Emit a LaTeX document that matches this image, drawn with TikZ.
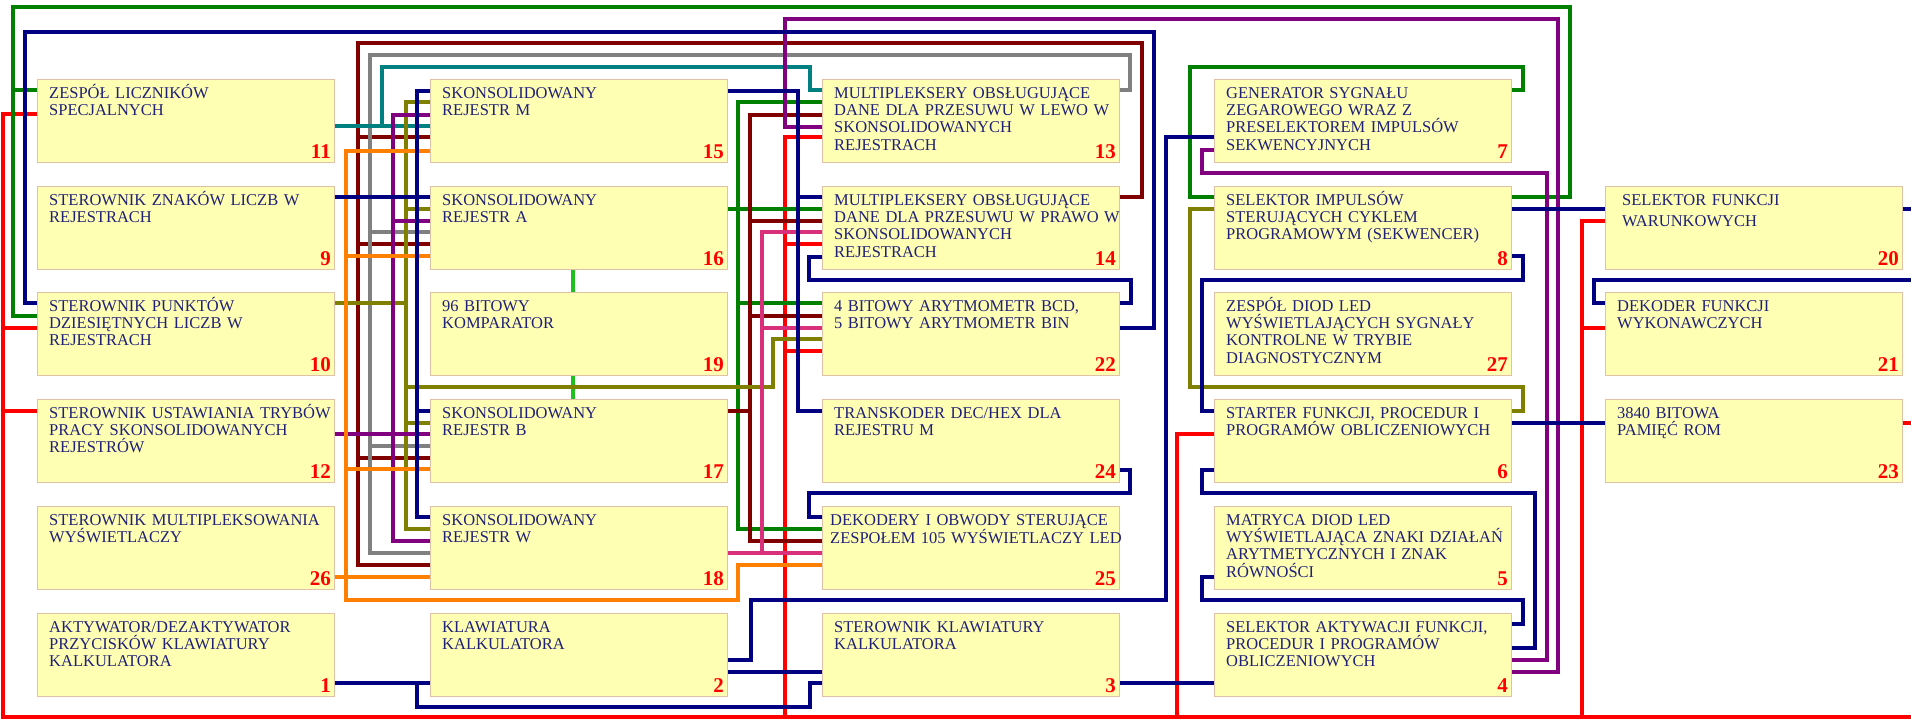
\documentclass[tikz,border=0pt]{standalone}
\usepackage{fontspec}
\setmainfont{Liberation Serif}
\usepackage{tikz}
\usetikzlibrary{positioning}
\definecolor{boxfill}{HTML}{FFFFB4}
\definecolor{boxedge}{HTML}{E2C2A6}
\definecolor{labeltext}{HTML}{202078}
\definecolor{wnavy}{HTML}{000080}
\definecolor{wgreen}{HTML}{008000}
\definecolor{wlime}{HTML}{20C020}
\definecolor{wmaroon}{HTML}{800000}
\definecolor{wgray}{HTML}{808080}
\definecolor{wteal}{HTML}{008080}
\definecolor{wolive}{HTML}{808000}
\definecolor{wpurple}{HTML}{800080}
\definecolor{worange}{HTML}{FF8000}
\definecolor{wpink}{HTML}{D8307A}
\definecolor{wred}{HTML}{FF0000}

\begin{document}
\begin{tikzpicture}[
    x=1pt, y=-1pt,
    blok/.style={
      draw=boxedge, line width=1pt, fill=boxfill, anchor=north west,
      minimum width=297pt, minimum height=83pt, inner sep=0pt
    },
    opis/.style={
      anchor=base west, xshift=12pt, yshift=-19pt, inner sep=0pt,
      text width=300pt, align=left, text=labeltext,
      font=\fontsize{16.5}{17.4}\selectfont
    },
    nr/.style={
      anchor=base east, xshift=-4pt, yshift=5pt, inner sep=0pt,
      text=wred, font=\fontsize{21}{21}\selectfont\bfseries
    },
    wire/.style={line width=3.2pt}
  ]
  \useasboundingbox[fill=white] (0,0) rectangle (1911,718);

  % column 1
  \node[blok] (b11) at (37,79) {};
  \node[opis] (t11) at (b11.north west) {ZESPÓŁ LICZNIKÓW\\SPECJALNYCH};
  \node[nr] (n11) at (b11.south east) {11};
  \node[blok] (b9) at (37,186) {};
  \node[opis] (t9) at (b9.north west) {STEROWNIK ZNAKÓW LICZB W\\REJESTRACH};
  \node[nr] (n9) at (b9.south east) {9};
  \node[blok] (b10) at (37,292) {};
  \node[opis] (t10) at (b10.north west) {STEROWNIK PUNKTÓW\\DZIESIĘTNYCH LICZB W\\REJESTRACH};
  \node[nr] (n10) at (b10.south east) {10};
  \node[blok] (b12) at (37,399) {};
  \node[opis] (t12) at (b12.north west) {STEROWNIK USTAWIANIA TRYBÓW\\PRACY SKONSOLIDOWANYCH\\REJESTRÓW};
  \node[nr] (n12) at (b12.south east) {12};
  \node[blok] (b26) at (37,506) {};
  \node[opis] (t26) at (b26.north west) {STEROWNIK MULTIPLEKSOWANIA\\WYŚWIETLACZY};
  \node[nr] (n26) at (b26.south east) {26};
  \node[blok] (b1) at (37,613) {};
  \node[opis] (t1) at (b1.north west) {AKTYWATOR/DEZAKTYWATOR\\PRZYCISKÓW KLAWIATURY\\KALKULATORA};
  \node[nr] (n1) at (b1.south east) {1};

  % column 2
  \node[blok] (b15) at (430,79) {};
  \node[opis] (t15) at (b15.north west) {SKONSOLIDOWANY\\REJESTR M};
  \node[nr] (n15) at (b15.south east) {15};
  \node[blok] (b16) at (430,186) {};
  \node[opis] (t16) at (b16.north west) {SKONSOLIDOWANY\\REJESTR A};
  \node[nr] (n16) at (b16.south east) {16};
  \node[blok] (b19) at (430,292) {};
  \node[opis] (t19) at (b19.north west) {96 BITOWY\\KOMPARATOR};
  \node[nr] (n19) at (b19.south east) {19};
  \node[blok] (b17) at (430,399) {};
  \node[opis] (t17) at (b17.north west) {SKONSOLIDOWANY\\REJESTR B};
  \node[nr] (n17) at (b17.south east) {17};
  \node[blok] (b18) at (430,506) {};
  \node[opis] (t18) at (b18.north west) {SKONSOLIDOWANY\\REJESTR W};
  \node[nr] (n18) at (b18.south east) {18};
  \node[blok] (b2) at (430,613) {};
  \node[opis] (t2) at (b2.north west) {KLAWIATURA\\KALKULATORA};
  \node[nr] (n2) at (b2.south east) {2};

  % column 3
  \node[blok] (b13) at (822,79) {};
  \node[opis] (t13) at (b13.north west) {MULTIPLEKSERY OBSŁUGUJĄCE\\DANE DLA PRZESUWU W LEWO W\\SKONSOLIDOWANYCH\\REJESTRACH};
  \node[nr] (n13) at (b13.south east) {13};
  \node[blok] (b14) at (822,186) {};
  \node[opis] (t14) at (b14.north west) {MULTIPLEKSERY OBSŁUGUJĄCE\\DANE DLA PRZESUWU W PRAWO W\\SKONSOLIDOWANYCH\\REJESTRACH};
  \node[nr] (n14) at (b14.south east) {14};
  \node[blok] (b22) at (822,292) {};
  \node[opis] (t22) at (b22.north west) {4 BITOWY ARYTMOMETR BCD,\\5 BITOWY ARYTMOMETR BIN};
  \node[nr] (n22) at (b22.south east) {22};
  \node[blok] (b24) at (822,399) {};
  \node[opis] (t24) at (b24.north west) {TRANSKODER DEC/HEX DLA\\REJESTRU M};
  \node[nr] (n24) at (b24.south east) {24};
  \node[blok] (b25) at (822,506) {};
  \node[opis, xshift=-4pt] (t25) at (b25.north west) {DEKODERY I OBWODY STERUJĄCE\\ZESPOŁEM 105 WYŚWIETLACZY LED};
  \node[nr] (n25) at (b25.south east) {25};
  \node[blok] (b3) at (822,613) {};
  \node[opis] (t3) at (b3.north west) {STEROWNIK KLAWIATURY\\KALKULATORA};
  \node[nr] (n3) at (b3.south east) {3};

  % column 4
  \node[blok] (b7) at (1214,79) {};
  \node[opis] (t7) at (b7.north west) {GENERATOR SYGNAŁU\\ZEGAROWEGO WRAZ Z\\PRESELEKTOREM IMPULSÓW\\SEKWENCYJNYCH};
  \node[nr] (n7) at (b7.south east) {7};
  \node[blok] (b8) at (1214,186) {};
  \node[opis] (t8) at (b8.north west) {SELEKTOR IMPULSÓW\\STERUJĄCYCH CYKLEM\\PROGRAMOWYM (SEKWENCER)};
  \node[nr] (n8) at (b8.south east) {8};
  \node[blok] (b27) at (1214,292) {};
  \node[opis] (t27) at (b27.north west) {ZESPÓŁ DIOD LED\\WYŚWIETLAJĄCYCH SYGNAŁY\\KONTROLNE W TRYBIE\\DIAGNOSTYCZNYM};
  \node[nr] (n27) at (b27.south east) {27};
  \node[blok] (b6) at (1214,399) {};
  \node[opis] (t6) at (b6.north west) {STARTER FUNKCJI, PROCEDUR I\\PROGRAMÓW OBLICZENIOWYCH};
  \node[nr] (n6) at (b6.south east) {6};
  \node[blok] (b5) at (1214,506) {};
  \node[opis] (t5) at (b5.north west) {MATRYCA DIOD LED\\WYŚWIETLAJĄCA ZNAKI DZIAŁAŃ\\ARYTMETYCZNYCH I ZNAK\\RÓWNOŚCI};
  \node[nr] (n5) at (b5.south east) {5};
  \node[blok] (b4) at (1214,613) {};
  \node[opis] (t4) at (b4.north west) {SELEKTOR AKTYWACJI FUNKCJI,\\PROCEDUR I PROGRAMÓW\\OBLICZENIOWYCH};
  \node[nr] (n4) at (b4.south east) {4};

  % column 5
  \node[blok] (b20) at (1605,186) {};
  \node[opis, xshift=5pt] (t20) at (b20.north west) {SELEKTOR FUNKCJI\\[3.6pt]WARUNKOWYCH};
  \node[nr] (n20) at (b20.south east) {20};
  \node[blok] (b21) at (1605,292) {};
  \node[opis] (t21) at (b21.north west) {DEKODER FUNKCJI\\WYKONAWCZYCH};
  \node[nr] (n21) at (b21.south east) {21};
  \node[blok] (b23) at (1605,399) {};
  \node[opis] (t23) at (b23.north west) {3840 BITOWA\\PAMIĘĆ ROM};
  \node[nr] (n23) at (b23.south east) {23};

  % red lines
  \draw[wire, wred] (b11.west |- 0,114) -- (3,114) -- (3,717) -- (1930,717) -- (1930,423) -- (b23.east |- 0,423)
    (3,328) -- (b10.west |- 0,328)
    (3,411) -- (b12.west |- 0,411);
  \draw[wire, wred] (b13.west |- 0,137) -- (785,137) -- (785,717)
    (785,244) -- (b14.west |- 0,244)
    (785,351) -- (b22.west |- 0,351);
  \draw[wire, wred] (b6.west |- 0,434) -- (1177,434) -- (1177,717);
  \draw[wire, wred] (b20.west |- 0,221) -- (1582,221) -- (1582,717)
    (1582,328) -- (b21.west |- 0,328);

  % green lines
  \draw[wire, wgreen] (b10.west |- 0,316) -- (13,316) -- (13,7) -- (1570,7) -- (1570,197) -- (b8.east |- 0,197)
    (13,90) -- (b11.west |- 0,90);
  \draw[wire, wgreen] (b7.east |- 0,90) -- (1523,90) -- (1523,67) -- (1190,67) -- (1190,197) -- (b8.west |- 0,197);
  \draw[wire, wgreen] (b13.west |- 0,102) -- (738,102) -- (738,529) -- (b25.west |- 0,529)
    (b16.east |- 0,209) -- (b14.west |- 0,209)
    (738,303) -- (b22.west |- 0,303);
  \draw[wire, wlime] ([xshift=-6pt]b16.south) -- ([xshift=-6pt]b19.north)
    ([xshift=-6pt]b19.south) -- ([xshift=-6pt]b17.north);

  % maroon lines
  \draw[wire, wmaroon] (b14.east |- 0,197) -- (1142,197) -- (1142,43) -- (358,43) -- (358,565) -- (b18.west |- 0,565)
    (358,137) -- (b15.west |- 0,137)
    (358,244) -- (b16.west |- 0,244)
    (358,458) -- (b17.west |- 0,458);
  \draw[wire, wmaroon] (b13.west |- 0,115) -- (750,115) -- (750,541) -- (b25.west |- 0,541)
    (750,221) -- (b14.west |- 0,221)
    (750,316) -- (b22.west |- 0,316)
    (b17.east |- 0,411) -- (750,411);

  % gray lines
  \draw[wire, wgray] (b13.east |- 0,90) -- (1130,90) -- (1130,55) -- (370,55) -- (370,553) -- (b18.west |- 0,553)
    (370,232) -- (b16.west |- 0,232)
    (370,446) -- (b17.west |- 0,446);

  % teal lines
  \draw[wire, wteal] (b11.east |- 0,126) -- (b15.west |- 0,126)
    (382,126) -- (382,67) -- (810,67) -- (810,90) -- (b13.west |- 0,90);

  % olive lines
  \draw[wire, wolive] (b15.west |- 0,102) -- (406,102) -- (406,529) -- (b18.west |- 0,529)
    (406,209) -- (b16.west |- 0,209)
    (b10.east |- 0,303) -- (406,303)
    (406,423) -- (b17.west |- 0,423)
    (406,387) -- (773,387) -- (773,339) -- (b22.west |- 0,339);
  \draw[wire, wolive] (b8.west |- 0,209) -- (1190,209) -- (1190,387) -- (1523,387) -- (1523,411) -- (b6.east |- 0,411);

  % purple lines
  \draw[wire, wpurple] (b15.west |- 0,115) -- (393,115) -- (393,541) -- (b18.west |- 0,541)
    (393,221) -- (b16.west |- 0,221)
    (b12.east |- 0,434) -- (b17.west |- 0,434);
  \draw[wire, wpurple] (b13.west |- 0,127) -- (785,127) -- (785,19) -- (1558,19) -- (1558,672) -- (b4.east |- 0,672);
  \draw[wire, wpurple] (b7.west |- 0,150) -- (1202,150) -- (1202,173) -- (1547,173) -- (1547,660) -- (b4.east |- 0,660);

  % orange lines
  \draw[wire, worange] (b15.west |- 0,151) -- (346,151) -- (346,600) -- (738,600) -- (738,565) -- (b25.west |- 0,565)
    (346,256) -- (b16.west |- 0,256)
    (346,469) -- (b17.west |- 0,469)
    (b26.east |- 0,577) -- (b18.west |- 0,577);

  % pink lines
  \draw[wire, wpink] (b18.east |- 0,553) -- (b25.west |- 0,553)
    (762,553) -- (762,232) -- (b14.west |- 0,232)
    (762,328) -- (b22.west |- 0,328);

  % navy lines
  \draw[wire, wnavy] (b10.west |- 0,303) -- (25,303) -- (25,32) -- (1154,32) -- (1154,328) -- (b22.east |- 0,328);
  \draw[wire, wnavy] (b15.east |- 0,91) -- (798,91) -- (798,411) -- (b24.west |- 0,411)
    (798,197) -- (b14.west |- 0,197);
  \draw[wire, wnavy] (b15.west |- 0,91) -- (417,91) -- (417,517) -- (b18.west |- 0,517)
    (b9.east |- 0,197) -- (b16.west |- 0,197)
    (417,411) -- (b17.west |- 0,411);
  \draw[wire, wnavy] (b14.west |- 0,257) -- (809,257) -- (809,280) -- (1131,280) -- (1131,303) -- (b22.east |- 0,303);
  \draw[wire, wnavy] (b24.east |- 0,470) -- (1130,470) -- (1130,493) -- (809,493) -- (809,517) -- (b25.west |- 0,517);
  \draw[wire, wnavy] (b7.west |- 0,137) -- (1166,137) -- (1166,600) -- (751,600) -- (751,660) -- (b2.east |- 0,660);
  \draw[wire, wnavy] (b2.east |- 0,672) -- (b3.west |- 0,672);
  \draw[wire, wnavy] (b1.east |- 0,683) -- (b2.west |- 0,683)
    (417,683) -- (417,707) -- (810,707) -- (810,683) -- (b3.west |- 0,683);
  \draw[wire, wnavy] (b3.east |- 0,683) -- (b4.west |- 0,683);
  \draw[wire, wnavy] (b8.east |- 0,209) -- (b20.west |- 0,209);
  \draw[wire, wnavy] (b20.east |- 0,209) -- (1930,209) -- (1930,280) -- (1594,280) -- (1594,303) -- (b21.west |- 0,303);
  \draw[wire, wnavy] (b6.east |- 0,423) -- (b23.west |- 0,423);
  \draw[wire, wnavy] (b8.east |- 0,256) -- (1523,256) -- (1523,280) -- (1202,280) -- (1202,411) -- (b6.west |- 0,411);
  \draw[wire, wnavy] (b6.west |- 0,470) -- (1202,470) -- (1202,493) -- (1535,493) -- (1535,648) -- (b4.east |- 0,648);
  \draw[wire, wnavy] (b5.west |- 0,577) -- (1202,577) -- (1202,600) -- (1523,600) -- (1523,624) -- (b4.east |- 0,624);

\end{tikzpicture}
\end{document}
